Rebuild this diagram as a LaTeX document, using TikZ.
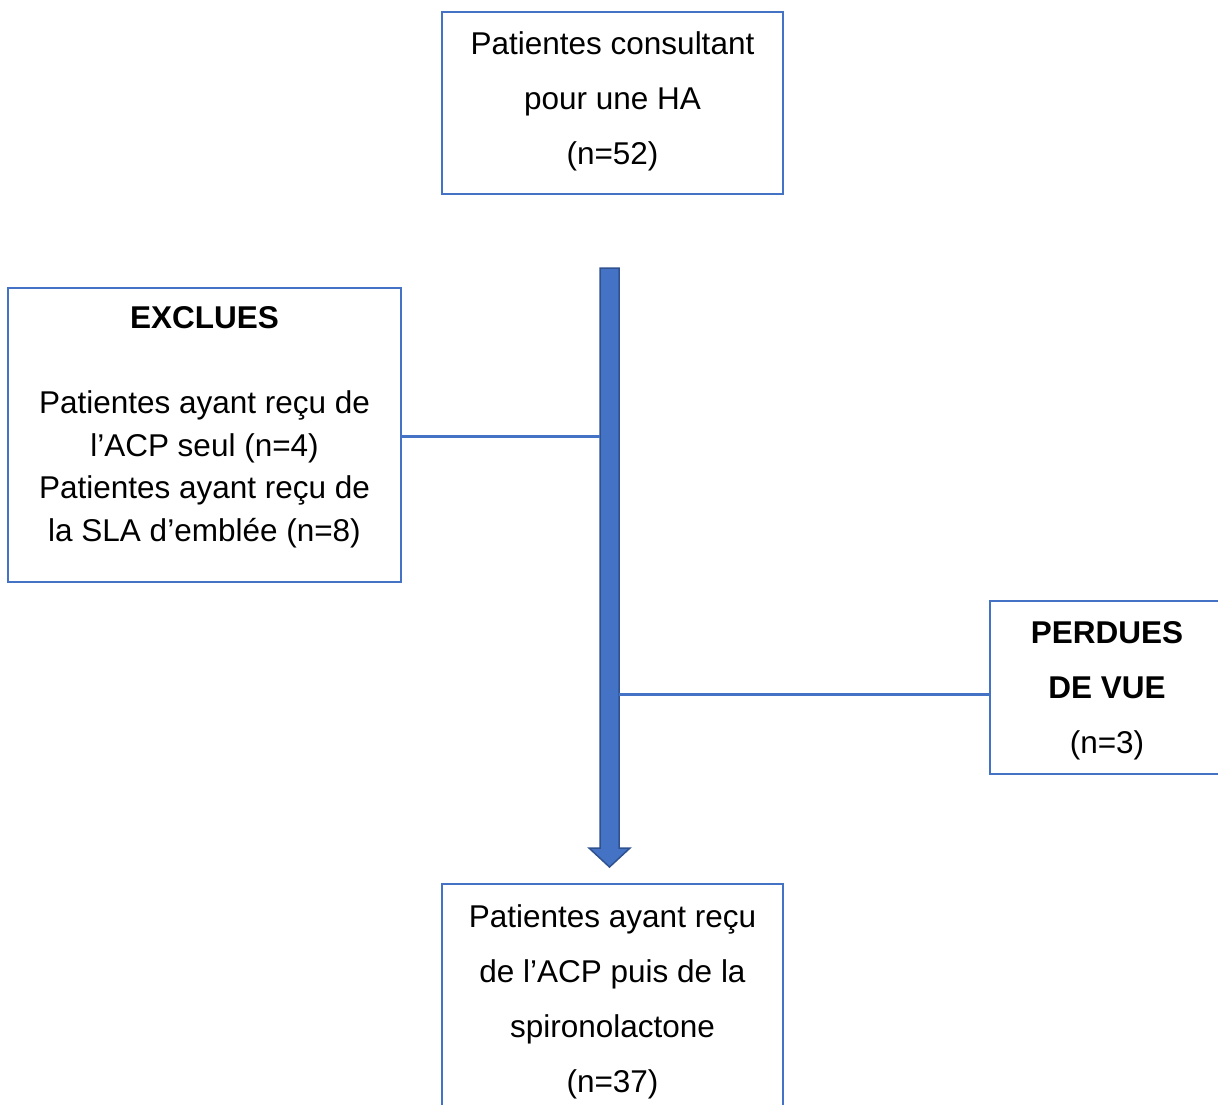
\documentclass[tikz,border=0pt]{standalone}
\usepackage{fontspec}
\setmainfont{Liberation Sans}
\definecolor{bl}{HTML}{4472C4}
\definecolor{bld}{HTML}{2F528F}
\begin{document}
\begin{tikzpicture}[x=1pt,y=-1pt,
  box/.style={draw=bl,line width=2pt,inner sep=0pt,fill=white},
  txt/.style={align=center,inner sep=0pt,font=\fontsize{31.5}{55}\selectfont},
  txts/.style={align=center,inner sep=0pt,font=\fontsize{31.5}{42.5}\selectfont},
  conn/.style={draw=bl,line width=3pt}]
\useasboundingbox (0,0) rectangle (1218,1104);
% arrow
\coordinate (atop) at (609.5,268);
\coordinate (ajoinL) at (600,436);
\coordinate (ajoinR) at (619,694);
\draw[bld,fill=bl,line width=1.5pt] (600,268) -- (619,268) -- (619,848) -- (630,848) -- (609.5,867) -- (589,848) -- (600,848) -- cycle;
% boxes
\node[box,minimum width=341pt,minimum height=182pt] (top) at (612.5,103) {};
\node[txt] (toptxt) at (612.5,101.5) {Patientes consultant\\pour une HA\\(n=52)};
\node[box,minimum width=393pt,minimum height=294pt] (excl) at (204.5,435) {};
\node[txts] (excltxt) at (204.5,427.5) {\textbf{EXCLUES}\\[0pt]\mbox{}\\Patientes ayant reçu de\\l’ACP seul (n=4)\\Patientes ayant reçu de\\la SLA d’emblée (n=8)};
\node[box,minimum width=234pt,minimum height=173pt] (perd) at (1107,687.5) {};
\node[txt] (perdtxt) at (1107,690.5) {\textbf{PERDUES}\\\textbf{DE VUE}\\(n=3)};
\node[box,minimum width=341pt,minimum height=260pt] (bot) at (612.5,1014) {};
\node[txt] (bottxt) at (612.5,1001.5) {Patientes ayant reçu\\de l’ACP puis de la\\spironolactone\\(n=37)};
% connectors
\draw[conn] (excl.east |- ajoinL) -- (ajoinL);
\draw[conn] (ajoinR) -- (perd.west |- ajoinR);
\end{tikzpicture}
\end{document}
